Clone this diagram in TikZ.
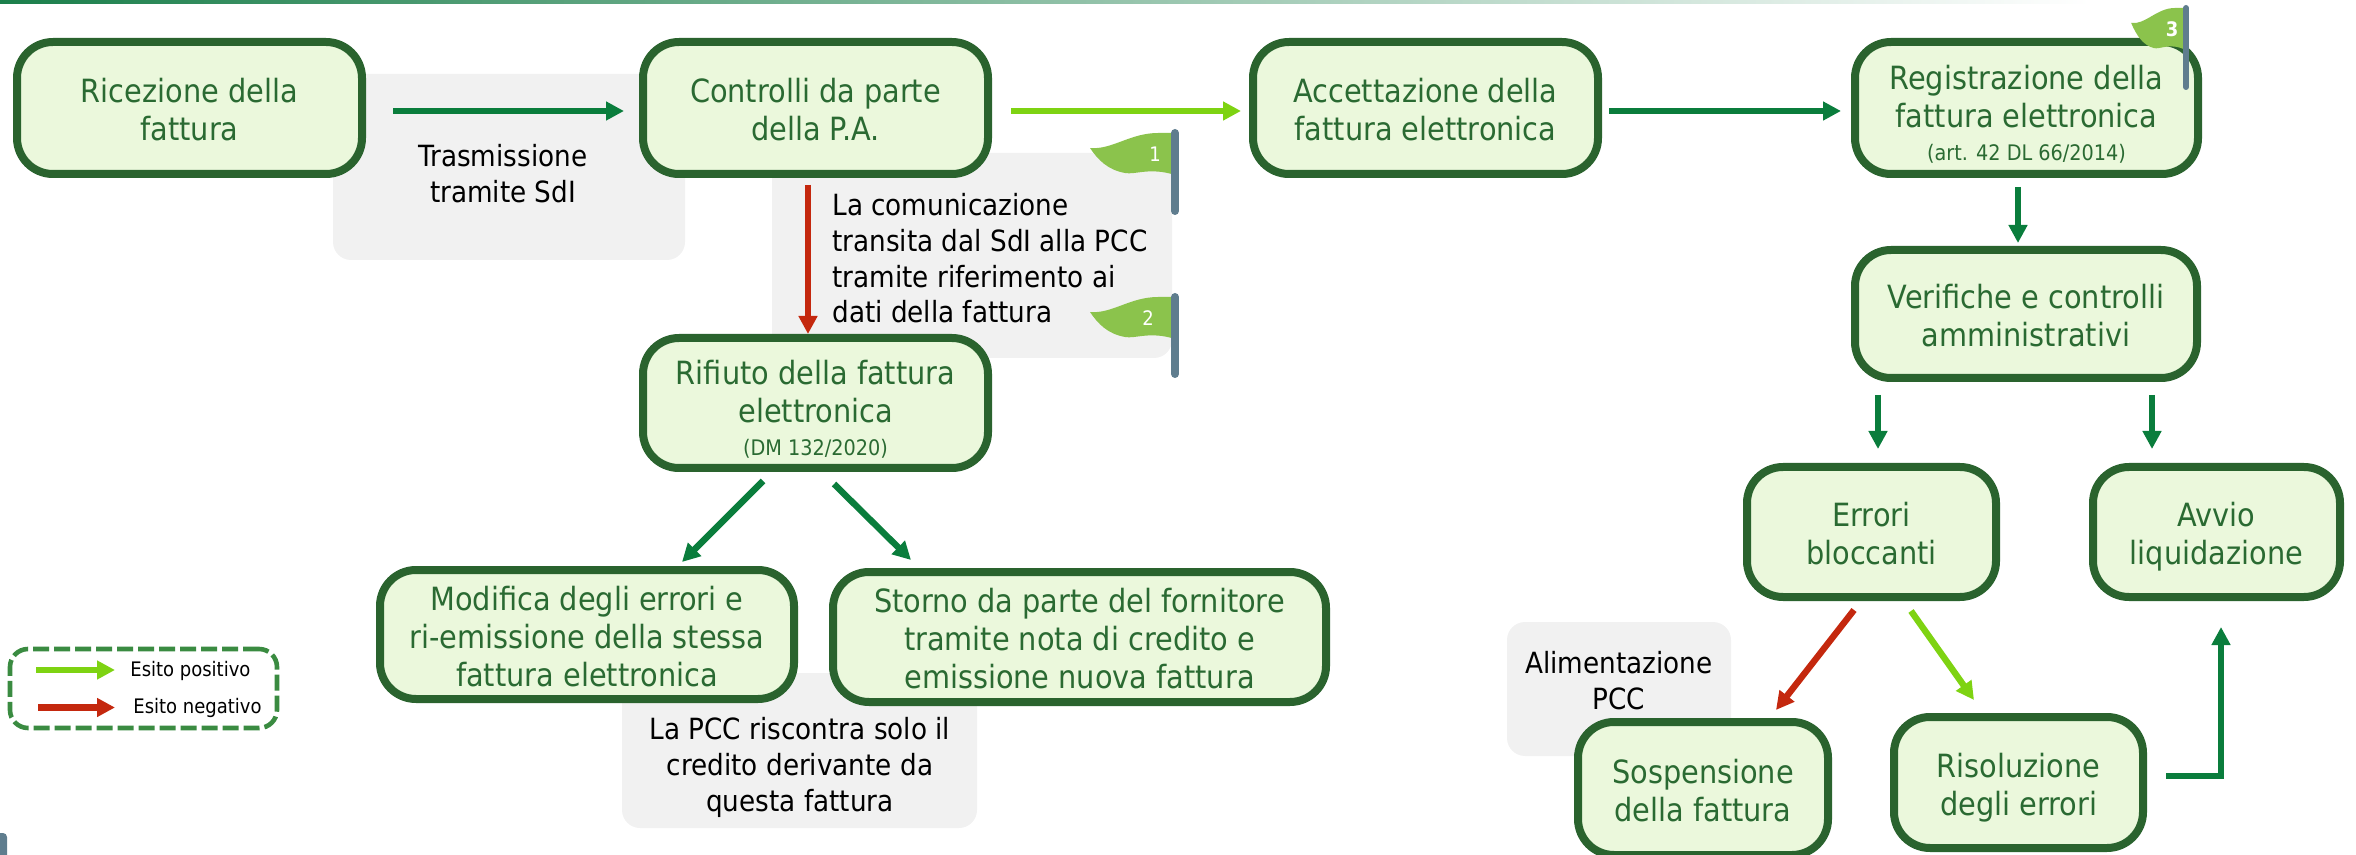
\documentclass[tikz,border=0pt]{standalone}
\usepackage{fontspec}
\setmainfont{DejaVu Sans Condensed}
\usetikzlibrary{arrows.meta,calc}
\definecolor{boxfill}{HTML}{EBF8DC}
\definecolor{boxline}{HTML}{2A632E}
\definecolor{boxtext}{HTML}{2A6A32}
\definecolor{greyfill}{HTML}{F1F1F1}
\definecolor{arrdark}{HTML}{0A7D3C}
\definecolor{arrlight}{HTML}{7ED312}
\definecolor{arrred}{HTML}{C4280E}
\definecolor{flagfill}{HTML}{8BC34C}
\definecolor{polecol}{HTML}{5F7D8E}
\definecolor{legline}{HTML}{3A8B41}
\definecolor{barcol}{HTML}{1B7F4B}
\newcommand{\wavepath}{(-81,19) .. controls (-59,21) and (-41,4) .. (-13,4) -- (4,4) -- (4,46) .. controls (-21,38) and (-36,46) .. (-46,44) .. controls (-63,41) and (-73,31) .. (-81,19) -- cycle}
\newcommand{\smallline}[1]{{\fontsize{10.7}{12}\selectfont #1}}
\newcommand{\procstrut}{\rule[-5.7pt]{0pt}{19pt}}
\newcommand{\notestrut}{\rule[-5.3pt]{0pt}{17.8pt}}
\newcommand{\procfirst}{\rule{0pt}{19.3pt}}
\newcommand{\notefirst}{\rule{0pt}{17.7pt}}
\tikzset{
  x=0.5pt,y=-0.5pt,
  proc/.style={draw=boxline,fill=boxfill,line width=4pt,rounded corners=18pt,align=center,text=boxtext,inner sep=0pt,font=\fontsize{16}{19}\selectfont},
  greybox/.style={fill=greyfill,rounded corners=9pt,inner sep=0pt},
  note/.style={align=center,text=black,inner sep=0pt,font=\fontsize{14.6}{17.8}\selectfont},
  arr/.style={line width=3.2pt,-{Triangle[length=9pt,width=9pt]}},
  arrd/.style={arr,draw=arrdark},
  arrl/.style={arr,draw=arrlight},
  arrr/.style={arr,draw=arrred},
  flagnum/.style={text=white,inner sep=0pt,font=\fontsize{10}{12}\selectfont},
  legtxt/.style={text=black,inner sep=0pt,font=\fontsize{10}{12}\selectfont},
}
\begin{document}
\begin{tikzpicture}
\useasboundingbox (0,0) rectangle (2356,855);
\shade[left color=barcol,right color=white] (0,0) rectangle (2090,3.5);
% grey notes
\node[greybox,minimum width=176pt,minimum height=93pt] (g1) at (509,167) {};
\node[greybox,minimum width=200pt,minimum height=102.5pt] (g2) at (972,255.5) {};
\node[greybox,minimum width=177.5pt,minimum height=77.5pt] (g3) at (799.5,750.5) {};
\node[greybox,minimum width=112pt,minimum height=67pt] (g4) at (1619,689) {};
\node[note] (t1) at (503,172) {\notefirst Trasmissione\\tramite SdI\notestrut};
\node[note,align=left,anchor=west] (t2) at (832,257) {\notefirst La comunicazione\\transita dal SdI alla PCC\\tramite riferimento ai\\dati della fattura\notestrut};
\node[note] (t3) at (800,763) {\notefirst La PCC riscontra solo il\\credito derivante da\\questa fattura\notestrut};
\node[note] (t4) at (1619,679) {\notefirst Alimentazione\\PCC\notestrut};
% process boxes
\node[proc,minimum width=172.5pt,minimum height=66pt] (ric) at (189.5,108) {\procfirst Ricezione della\\fattura\procstrut};
\node[proc,minimum width=172.5pt,minimum height=66pt] (con) at (815.5,108) {\procfirst Controlli da parte\\della P.A.\procstrut};
\node[proc,minimum width=172.5pt,minimum height=66pt] (acc) at (1425.5,108) {\procfirst Accettazione della\\fattura elettronica\procstrut};
\node[proc,minimum width=171.5pt,minimum height=66pt] (reg) at (2026.5,108) {\rule{0pt}{22.3pt}Registrazione della\\fattura elettronica\\[-2.5pt]\smallline{(art. 42 DL 66/2014)}\procstrut};
\node[proc,minimum width=171pt,minimum height=64pt] (ver) at (2026,314) {\procfirst Verifiche e controlli\\amministrativi\procstrut};
\node[proc,minimum width=172.5pt,minimum height=65pt] (rif) at (815.5,403) {\rule{0pt}{22.3pt}Rifiuto della fattura\\elettronica\\[-2.5pt]\smallline{(DM 132/2020)}\procstrut};
\node[proc,minimum width=207pt,minimum height=64.5pt] (mod) at (587,634.5) {\procfirst Modifica degli errori e\\ri-emissione della stessa\\fattura elettronica\procstrut};
\node[proc,minimum width=246.5pt,minimum height=65pt] (sto) at (1079.5,637) {\procfirst Storno da parte del fornitore\\tramite nota di credito e\\emissione nuova fattura\procstrut};
\node[proc,minimum width=124.5pt,minimum height=65pt] (err) at (1871.5,532) {\procfirst Errori\\bloccanti\procstrut};
\node[proc,minimum width=123.5pt,minimum height=65pt] (avv) at (2216.5,532) {\procfirst Avvio\\liquidazione\procstrut};
\node[proc,minimum width=125pt,minimum height=66.5pt] (sos) at (1703,788.5) {\procfirst Sospensione\\della fattura\procstrut};
\node[proc,minimum width=124.5pt,minimum height=65.5pt] (ris) at (2018.5,782.5) {\procfirst Risoluzione\\degli errori\procstrut};
% connectors
\draw[arrd] ($(ric.east)+(27,3)$) -- ($(con.west)+(-15,3)$);
\draw[arrl] ($(con.east)+(19,3)$) -- ($(acc.west)+(-8,3)$);
\draw[arrd] ($(acc.east)+(7,3)$) -- ($(reg.west)+(-10,3)$);
\draw[arrr] ($(con.south)+(-7.5,7)$) -- ($(rif.north)+(-7.5,0)$);
\draw[arrd] ($(reg.south)+(-8.5,9)$) -- ($(ver.north)+(-8,-3)$);
\draw[arrd] ($(ver.south)+(-148,13)$) -- ($(err.north)+(6.5,-14)$);
\draw[arrd] ($(ver.south)+(126,13)$) -- ($(avv.north)+(-64.5,-14)$);
\draw[arrd] ($(rif.south)+(-52.5,9)$) -- ($(mod.north)+(95,-4)$);
\draw[arrd] ($(rif.south)+(18.5,12)$) -- ($(sto.north)+(-168.5,-8)$);
\draw[arrr] ($(err.south)+(-17.5,9)$) -- ($(sos.north)+(73,-8)$);
\draw[arrl] ($(err.south)+(39.5,10)$) -- ($(ris.north)+(-44.5,-13)$);
\draw[arrd] ($(ris.east)+(19,-6.5)$) -| ($(avv.south)+(4.5,26)$);
% flags
\begin{scope}[shift={(1171,129)}]
\fill[flagfill] \wavepath;
\draw[polecol,line width=4pt,line cap=round] (4,4) -- (4,82);
\node[flagnum] (f1) at (-16,25) {1};
\end{scope}
\begin{scope}[shift={(1171,293)}]
\fill[flagfill] \wavepath;
\draw[polecol,line width=4pt,line cap=round] (4,4) -- (4,81);
\node[flagnum] (f2) at (-23,25) {2};
\end{scope}
\begin{scope}[shift={(2183,4)},xscale=0.64]
\fill[flagfill] \wavepath;
\end{scope}
\draw[polecol,line width=3pt,line cap=round] (2186,8) -- (2186,87);
\node[flagnum,font=\fontsize{10}{12}\selectfont\bfseries] (f3) at (2172,29) {3};
\fill[polecol,rounded corners=2pt] (-4,833) rectangle (7,870);
% legend
\node[draw=legline,line width=2.3pt,dash pattern=on 8pt off 2.5pt,rounded corners=9pt,minimum width=133.5pt,minimum height=39.5pt,inner sep=0pt] (leg) at (143.5,688.5) {};
\node[legtxt,anchor=west] (lp) at (130,671) {Esito positivo};
\node[legtxt,anchor=west] (ln) at (133,708) {Esito negativo};
\coordinate (lpa) at (36,670);
\coordinate (lpb) at (115,670);
\coordinate (lna) at (38,707.5);
\coordinate (lnb) at (115,707.5);
\draw[arrl] (lpa) -- (lpb);
\draw[arrr] (lna) -- (lnb);
\end{tikzpicture}
\end{document}
